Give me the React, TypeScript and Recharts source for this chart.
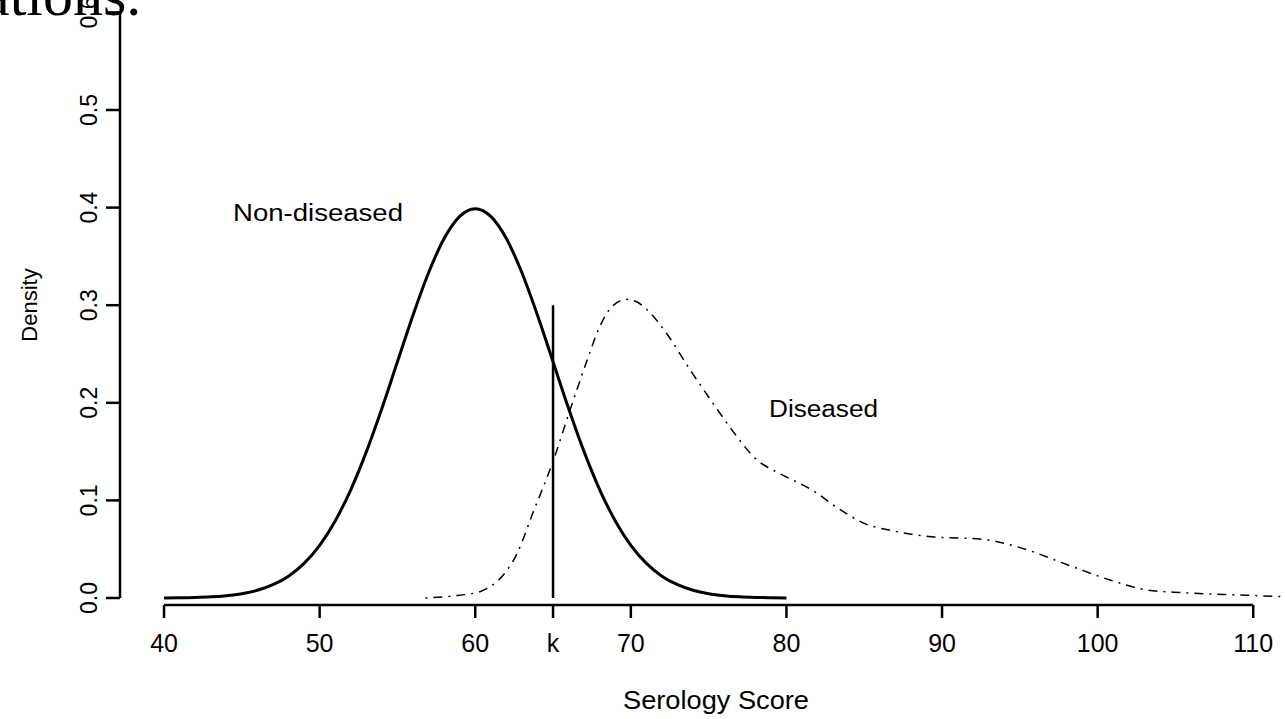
import { LineChart, Line, XAxis, YAxis, ReferenceLine } from 'recharts';

// Non-diseased curve (x = 40..80 step 1)
const nonDiseasedX = [
  40, 41, 42, 43, 44, 45, 46, 47, 48, 49, 50, 51, 52, 53, 54, 55, 56, 57, 58, 59, 60,
  61, 62, 63, 64, 65, 66, 67, 68, 69, 70, 71, 72, 73, 74, 75, 76, 77, 78, 79, 80,
];
const nonDiseasedY = [
  0.0001, 0.0003, 0.0006, 0.0012, 0.0024, 0.0044, 0.0079, 0.0136, 0.0224, 0.0355, 0.054,
  0.079, 0.1109, 0.1497, 0.1942, 0.242, 0.2897, 0.3332, 0.3683, 0.391, 0.3989,
  0.391, 0.3683, 0.3332, 0.2897, 0.242, 0.1942, 0.1497, 0.1109, 0.079, 0.054,
  0.0355, 0.0224, 0.0136, 0.0079, 0.0044, 0.0024, 0.0012, 0.0006, 0.0003, 0.0001,
];

// Diseased curve
const diseasedX = [
  56.8, 58.5, 60.3, 61, 61.6, 62.7, 63.7, 65, 66.1, 67.2, 68, 68.7, 69.7, 70.3, 71,
  72.3, 73.8, 75.3, 76.6, 78, 79.5, 80.9, 81.6, 83.5, 85, 86.9, 89.3, 92.6, 94.8,
  98.4, 100.8, 103.2, 105.5, 109.1, 112,
];
const diseasedY = [
  0, 0.002, 0.0065, 0.012, 0.02, 0.046, 0.087, 0.14, 0.193, 0.244, 0.278, 0.297, 0.306,
  0.304, 0.296, 0.271, 0.234, 0.199, 0.17, 0.143, 0.128, 0.117, 0.111, 0.09, 0.0765,
  0.0686, 0.0628, 0.0601, 0.0526, 0.032, 0.0184, 0.0082, 0.0055, 0.0031, 0.0014,
];

const xTicks = [40, 50, 60, 65, 70, 80, 90, 100, 110];
const yTicks = [0, 0.1, 0.2, 0.3, 0.4, 0.5, 0.6];
const cutoffK = 65;
const cutoffTop = 0.3;

const X_DOMAIN: [number, number] = [37.17, 112.04];
const Y_DOMAIN: [number, number] = [-0.00717, 0.6127];

const FONT = '"Liberation Sans", Arial, Helvetica, sans-serif';

const nonDiseased = nonDiseasedX.map((x, i) => ({ x, y: nonDiseasedY[i] }));
const diseased = diseasedX.map((x, i) => ({ x, y: diseasedY[i] }));

const XTick = ({ x, payload }: any) => (
  <text x={x} y={652} textAnchor="middle" fontSize={25} fontFamily={FONT} fill="#000">
    {payload.value === cutoffK ? 'k' : payload.value}
  </text>
);

const YTick = ({ y, payload }: any) => (
  <text
    x={89}
    y={y}
    transform={`rotate(-90, 89, ${y})`}
    textAnchor="middle"
    dominantBaseline="central"
    fontSize={23}
    fontFamily={FONT}
    fill="#000"
  >
    {payload.value.toFixed(1)}
  </text>
);

export default function App() {
  return (
    <div style={{ position: 'absolute', left: 0, top: 0, width: 1285, height: 719, overflow: 'hidden', background: '#fff' }}>
      <LineChart width={1285} height={719} margin={{ top: 0, right: 0, bottom: 0, left: 0 }}>
        <XAxis
          dataKey="x"
          type="number"
          domain={X_DOMAIN}
          allowDataOverflow
          ticks={xTicks}
          interval={0}
          height={114}
          axisLine={false}
          tickSize={13}
          tickLine={{ stroke: '#000', strokeWidth: 2.5 }}
          tick={<XTick />}
        />
        <YAxis
          type="number"
          domain={Y_DOMAIN}
          allowDataOverflow
          ticks={yTicks}
          interval={0}
          width={120}
          axisLine={false}
          tickSize={14}
          tickLine={{ stroke: '#000', strokeWidth: 2.5 }}
          tick={<YTick />}
        />
        <ReferenceLine
          segment={[{ x: xTicks[0], y: Y_DOMAIN[0] }, { x: xTicks[xTicks.length - 1], y: Y_DOMAIN[0] }]}
          stroke="#000"
          strokeWidth={2.5}
          ifOverflow="visible"
        />
        <ReferenceLine
          segment={[{ x: X_DOMAIN[0], y: yTicks[0] }, { x: X_DOMAIN[0], y: yTicks[yTicks.length - 1] }]}
          stroke="#000"
          strokeWidth={2.5}
          ifOverflow="visible"
        />
        <ReferenceLine
          segment={[{ x: cutoffK, y: 0 }, { x: cutoffK, y: cutoffTop }]}
          stroke="#000"
          strokeWidth={2.5}
          ifOverflow="visible"
        />
        <Line
          data={nonDiseased}
          dataKey="y"
          type="monotone"
          stroke="#000"
          strokeWidth={3}
          dot={false}
          isAnimationActive={false}
        />
        <Line
          data={diseased}
          dataKey="y"
          type="monotone"
          stroke="#000"
          strokeWidth={1.5}
          strokeDasharray="2 6 9 6"
          dot={false}
          isAnimationActive={false}
        />
      </LineChart>
      <svg width={1285} height={719} style={{ position: 'absolute', left: 0, top: 0, pointerEvents: 'none' }}>
        <text x={233} y={221} fontSize={23} fontFamily={FONT} textLength={170} lengthAdjust="spacingAndGlyphs">
          Non-diseased
        </text>
        <text x={769} y={417} fontSize={23} fontFamily={FONT} textLength={109} lengthAdjust="spacingAndGlyphs">
          Diseased
        </text>
        <text x={716} y={709} textAnchor="middle" fontSize={26} fontFamily={FONT} textLength={186} lengthAdjust="spacingAndGlyphs">
          Serology Score
        </text>
        <text
          x={29}
          y={305}
          transform="rotate(-90, 29, 305)"
          textAnchor="middle"
          dominantBaseline="central"
          fontSize={22}
          fontFamily={FONT}
        >
          Density
        </text>
      </svg>
      <div
        style={{
          position: 'absolute',
          left: -17,
          top: -35,
          fontFamily: '"Liberation Serif", "DejaVu Serif", serif',
          fontSize: 60,
          lineHeight: '60px',
          whiteSpace: 'nowrap',
          color: '#000',
        }}
      >
        ations.
      </div>
    </div>
  );
}
